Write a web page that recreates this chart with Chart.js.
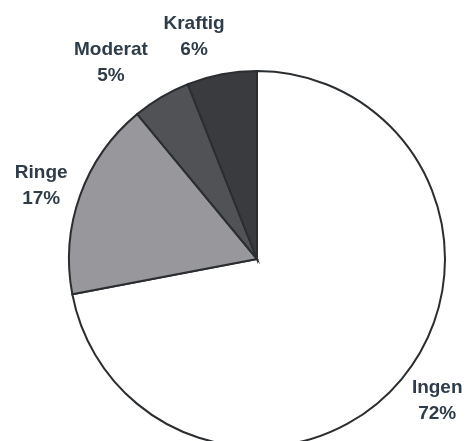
<!DOCTYPE html>
<html>
<head>
<meta charset="utf-8">
<script src="https://cdn.jsdelivr.net/npm/chart.js@4.4.1/dist/chart.umd.min.js"></script>
<style>
  html, body { margin: 0; padding: 0; background: #fff; overflow: hidden; }
  #wrap { position: relative; width: 467px; height: 470px; }
</style>
</head>
<body>
<div id="wrap"><canvas id="pie"></canvas></div>
<script>
// data
const categories = ['Ingen', 'Ringe', 'Moderat', 'Kraftig'];
const shares = [72, 17, 5, 6];

// styling
const sliceColors = ['#ffffff', '#98989c', '#505256', '#393b3f'];
const labelColor = '#2e3c49';
// label offset from the rim (px) and angle nudge (deg) per slice
const labelNudge = [
    { r: 41, a: -1.5 },
    { r: 40, a: -1 },
    { r: 57, a: -6 },
    { r: 43, a: -5 }
];

// simple label plugin: two lines, name + percent, outside the slice
const outsideLabels = {
    id: 'outsideLabels',
    afterDraw(chart) {
        const ctx = chart.ctx;
        const arcs = chart.getDatasetMeta(0).data;
        ctx.save();
        ctx.fillStyle = labelColor;
        ctx.font = 'bold 19px "Liberation Sans", Arial, sans-serif';
        ctx.textAlign = 'center';
        ctx.textBaseline = 'middle';
        arcs.forEach((arc, i) => {
            const p = arc.getProps(['x', 'y', 'startAngle', 'endAngle', 'outerRadius'], true);
            const mid = (p.startAngle + p.endAngle) / 2 + labelNudge[i].a * Math.PI / 180;
            const r = p.outerRadius + labelNudge[i].r;
            const cx = p.x + Math.cos(mid) * r;
            const cy = p.y + Math.sin(mid) * r;
            ctx.fillText(categories[i], cx, cy - 13);
            ctx.fillText(shares[i] + '%', cx, cy + 13);
        });
        ctx.restore();
    }
};

new Chart(document.getElementById('pie'), {
    type: 'pie',
    data: {
        labels: categories,
        datasets: [{
            data: shares,
            backgroundColor: sliceColors,
            borderColor: '#2b2e31',
            borderWidth: 2,
            borderJoinStyle: 'miter'
        }]
    },
    options: {
        responsive: true,
        maintainAspectRatio: false,
        animation: false,
        events: [],
        layout: { padding: { left: 68, right: 21, top: 70, bottom: 22 } },
        plugins: {
            legend: { display: false },
            tooltip: { enabled: false }
        }
    },
    plugins: [outsideLabels]
});
</script>
</body>
</html>
